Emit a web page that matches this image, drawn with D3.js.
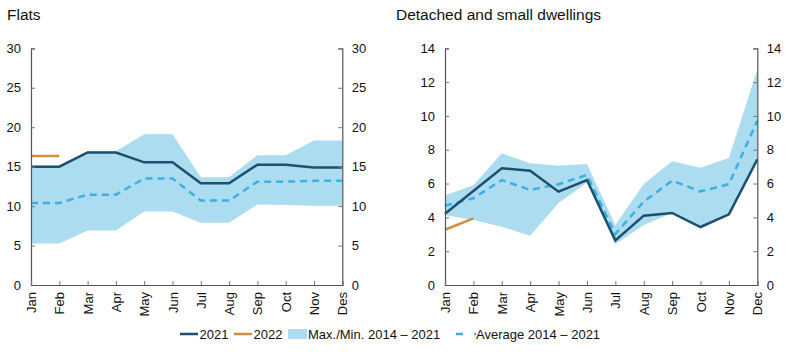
<!DOCTYPE html>
<html><head><meta charset="utf-8">
<script src="https://cdn.jsdelivr.net/npm/d3@7"></script>
<style>body{margin:0;background:#fff}svg{display:block;font-family:"Liberation Sans",Arial,sans-serif}</style>
</head><body><svg id="c" width="797" height="358"></svg>
<script>
const monthsFlats = ["Jan","Feb","Mar","Apr","May","Jun","Jul","Aug","Sep","Oct","Nov","Des"];
const monthsDet = ["Jan","Feb","Mar","Apr","May","Jun","Jul","Aug","Sep","Oct","Nov","Dec"];

const flats2021 = [15.0,15.0,16.8,16.8,15.55,15.55,12.9,12.9,15.25,15.25,14.9,14.9];
const flats2022 = [16.35,16.35];
const flatsMax = [15.1,15.1,16.95,16.95,19.1,19.1,13.65,13.65,16.45,16.45,18.3,18.3];
const flatsMin = [5.25,5.25,6.9,6.9,9.3,9.3,7.9,7.9,10.2,10.15,10.05,10.05];
const flatsAvg = [10.4,10.4,11.45,11.45,13.5,13.5,10.7,10.7,13.1,13.1,13.2,13.2];

const det2021 = [4.22,5.56,6.9,6.76,5.52,6.21,2.64,4.1,4.26,3.43,4.18,7.43];
const det2022 = [3.27,3.94];
const detMax = [5.3,5.9,7.79,7.2,7.06,7.16,3.55,5.97,7.32,6.94,7.51,12.76];
const detMin = [4.14,3.85,3.45,2.92,4.85,6.05,2.41,3.55,4.26,3.43,4.18,7.43];
const detAvg = [4.69,5.13,6.21,5.62,5.96,6.51,3.02,4.93,6.17,5.54,5.96,9.72];

const flatsTicks = [0,5,10,15,20,25,30];
const detTicks = [0,2,4,6,8,10,12,14];

const C2021="#1d4f6f", C2022="#d48c3f", CBAND="#abdcef", CAVG="#3db0e2";

const svg = d3.select("#c");

function panel(opt){
  const g = svg.append("g");
  const x = d3.scalePoint().domain(opt.months).range([opt.x0,opt.x1]);
  const y = d3.scaleLinear().domain([0,opt.ymax]).range([285,48.3]);
  g.append("text").attr("x",opt.tx).attr("y",20).attr("font-size",15.5).attr("fill","#111").text(opt.title);
  const band = d3.area().x((d,i)=>x(opt.months[i])).y0((d,i)=>y(opt.min[i])).y1(d=>y(d));
  g.append("path").datum(opt.max).attr("d",band).attr("fill",CBAND);
  const line = d3.line().x((d,i)=>x(opt.months[i])).y(d=>y(d));
  g.append("path").datum(opt.avg).attr("d",line).attr("fill","none").attr("stroke",CAVG).attr("stroke-width",2.5).attr("stroke-dasharray","7,5");
  g.append("path").datum(opt.s2022).attr("d",line).attr("fill","none").attr("stroke",C2022).attr("stroke-width",2.5);
  g.append("path").datum(opt.s2021).attr("d",line).attr("fill","none").attr("stroke",C2021).attr("stroke-width",2.5);
  // axes
  const la = d3.axisLeft(y).tickValues(opt.ticks).tickSize(-4).tickPadding(10);
  const ra = d3.axisRight(y).tickValues(opt.ticks).tickSize(-4).tickPadding(9.5);
  const ba = d3.axisBottom(x).tickSize(-4).tickPadding(5);
  const gl = g.append("g").attr("transform",`translate(${opt.x0},0)`).call(la);
  const gr = g.append("g").attr("transform",`translate(${opt.x1},0)`).call(ra);
  const gb = g.append("g").attr("transform",`translate(0,285)`).call(ba);
  [gl,gr,gb].forEach(a=>{
    a.select(".domain").attr("stroke","#555").attr("stroke-width",1.2);
    a.selectAll(".tick line").attr("stroke","#777");
    a.selectAll("text").attr("font-size",13).attr("fill","#111").attr("font-family","Liberation Sans, Arial, sans-serif");
  });
  gb.selectAll("text").attr("transform","rotate(-90)").attr("text-anchor","end").attr("dy","0.35em").attr("x",-7).attr("y",0);
}

panel({months:monthsFlats,x0:31,x1:342.3,ymax:30,ticks:flatsTicks,title:"Flats",tx:7,
  s2021:flats2021,s2022:flats2022,max:flatsMax,min:flatsMin,avg:flatsAvg});
panel({months:monthsDet,x0:445,x1:757.3,ymax:14,ticks:detTicks,title:"Detached and small dwellings",tx:396,
  s2021:det2021,s2022:det2022,max:detMax,min:detMin,avg:detAvg});

// legend
const lg = svg.append("g").attr("font-size",13).attr("fill","#111");
const ly = 334;
lg.append("line").attr("x1",180).attr("x2",198).attr("y1",ly).attr("y2",ly).attr("stroke",C2021).attr("stroke-width",2.5);
lg.append("text").attr("x",199.5).attr("y",ly).attr("dy","0.35em").text("2021");
lg.append("line").attr("x1",234).attr("x2",252).attr("y1",ly).attr("y2",ly).attr("stroke",C2022).attr("stroke-width",2.5);
lg.append("text").attr("x",253.5).attr("y",ly).attr("dy","0.35em").text("2022");
lg.append("rect").attr("x",288).attr("y",ly-5).attr("width",19).attr("height",10).attr("fill",CBAND);
lg.append("text").attr("x",308).attr("y",ly).attr("dy","0.35em").text("Max./Min. 2014 – 2021");
lg.append("line").attr("x1",456).attr("x2",476).attr("y1",ly).attr("y2",ly).attr("stroke",CAVG).attr("stroke-width",2.5).attr("stroke-dasharray","7,11");
lg.append("text").attr("x",476).attr("y",ly).attr("dy","0.35em").text("Average 2014 – 2021");
</script></body></html>
